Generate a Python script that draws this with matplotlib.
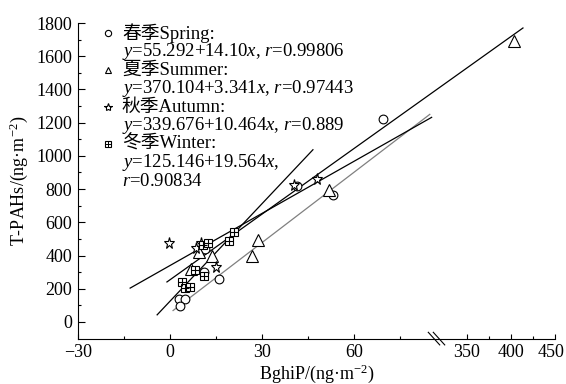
import numpy as np
import matplotlib
matplotlib.use("Agg")
import matplotlib.pyplot as plt
import matplotlib.transforms as mtransforms
from matplotlib.ticker import FixedLocator

plt.rcParams['font.family'] = ['Liberation Serif', 'Noto Sans CJK SC']
plt.rcParams['mathtext.fontset'] = 'custom'
plt.rcParams['mathtext.rm'] = 'Liberation Serif'
plt.rcParams['mathtext.it'] = 'Liberation Serif:italic'
plt.rcParams['axes.unicode_minus'] = True

# --- dane ---
spring_x = [3.0, 4.9, 3.4, 16.0, 11.0, 11.5, 41.5, 53.3, 69.5]
spring_y = [140, 140, 95, 258, 302, 440, 818, 765, 1222]
summer_x = [7.0, 9.5, 13.8, 26.8, 28.8, 51.8, 403.0]
summer_y = [318, 423, 397, 398, 492, 795, 1692]
autumn_x = [-0.3, 8.5, 10.0, 15.0, 40.3, 48.0]
autumn_y = [478, 447, 473, 332, 822, 860]
winter_x = [3.9, 5.0, 6.5, 8.3, 11.1, 10.8, 12.3, 19.3, 21.0]
winter_y = [241, 207, 211, 313, 275, 462, 475, 488, 540]

# proste regresji: (x_start, x_end), (y_start, y_end)
spring_fit = ([1.0, 84.7], [69, 1250])
summer_fit = ([-1.0, 413.6], [241, 1770])
autumn_fit = ([-13.0, 85.3], [204, 1232])
winter_fit = ([-4.2, 46.6], [43, 1037])

legend_titles = ["春季Spring:", "夏季Summer:", "秋季Autumn:", "冬季Winter:"]
legend_eqs = [
    ["$y$=55.292+14.10$x$, $r$=0.99806"],
    ["$y$=370.104+3.341$x$, $r$=0.97443"],
    ["$y$=339.676+10.464$x$, $r$=0.889"],
    ["$y$=125.146+19.564$x$,", "$r$=0.90834"],
]

x_major = [-30, 0, 30, 60, 350, 400, 450]
x_minor = [-15, 15, 45, 75, 375, 425]

# --- przerwana os X ---
B1, B2, K, EPS = 86.7, 314.8, 0.287, 1e-4
U2 = B1 + (B2 - B1) * EPS


def fwd(x):
    x = np.asarray(x, float)
    return np.where(x <= B1, x,
                    np.where(x >= B2, U2 + (x - B2) * K, B1 + (x - B1) * EPS))


def inv(u):
    u = np.asarray(u, float)
    return np.where(u <= B1, u,
                    np.where(u >= U2, B2 + (u - U2) / K, B1 + (u - B1) / EPS))


fig = plt.figure(figsize=(5.66, 3.84), dpi=100)
ax = fig.add_axes([78 / 566, (384 - 338.6) / 384, 477 / 566, 315.6 / 384])
ax.set_xscale('function', functions=(fwd, inv))
ax.set_xlim(-30, 450)
ax.set_ylim(-100, 1800)

lw = 0.9
ax.plot(*spring_fit, color='#808080', lw=lw)
ax.plot(*summer_fit, color='black', lw=lw)
ax.plot(*autumn_fit, color='black', lw=lw)
ax.plot(*winter_fit, color='black', lw=lw)

ms = 6.3
mk = dict(ls='none', mfc='white', mec='black', mew=0.8)
ax.plot(spring_x, spring_y, marker='o', ms=ms, **mk)
ax.plot(summer_x, summer_y, marker='^', ms=ms + 1.7, **mk)
ax.plot(autumn_x, autumn_y, marker='*', ms=ms + 2, **mk)
ax.plot(winter_x, winter_y, marker='s', ms=ms - 0.8, **mk)
ax.plot(winter_x, winter_y, marker='+', ms=ms - 0.8, ls='none', color='black', mew=0.8)

# legenda reczna
row0, dy = 0.968, 18.5 / 315.6
mx, tx = 0.063, 0.092
markers = ['o', '^', '*', 's']
row = 0
for i, title in enumerate(legend_titles):
    yy = row0 - row * dy
    m = markers[i]
    ax.plot([mx], [yy], marker=m, ms=4.5 if m != '*' else 6, transform=ax.transAxes,
            clip_on=False, **mk)
    if m == 's':
        ax.plot([mx], [yy], marker='+', ms=4.5, transform=ax.transAxes, clip_on=False,
                color='black', mew=0.7)
    ax.text(tx, yy, title, transform=ax.transAxes, va='center', ha='left', fontsize=13.5)
    row += 1
    for eq in legend_eqs[i]:
        yy = row0 - row * dy
        ax.text(tx, yy, eq, transform=ax.transAxes, va='center', ha='left', fontsize=13.5)
        row += 1

# osie
ax.spines['top'].set_visible(False)
ax.spines['right'].set_visible(False)
ax.xaxis.set_major_locator(FixedLocator(x_major))
ax.xaxis.set_minor_locator(FixedLocator(x_minor))
ax.set_xticklabels([str(v) if v >= 0 else "\u2212" + str(-v) for v in x_major])
ax.set_yticks(np.arange(0, 1801, 200))
ax.set_yticks(np.arange(100, 1800, 200), minor=True)
ax.tick_params(which='both', direction='in', labelsize=13, width=0.8)
ax.tick_params(axis='y', which='major', length=5, pad=4)
ax.tick_params(axis='y', which='minor', length=2.5)
ax.tick_params(axis='x', which='major', length=3.5, pad=4)
ax.tick_params(axis='x', which='minor', length=2)

# ostatnia etykieta lekko w lewo, zeby sie miescila
last = ax.get_xticklabels()[-1]
last.set_transform(last.get_transform() +
                   mtransforms.ScaledTranslation(-3 / 72, 0, fig.dpi_scale_trans))

ax.set_xlabel("BghiP/(ng·m$^{-2}$)", fontsize=13, labelpad=1)
ax.set_ylabel("T-PAHs/(ng·m$^{-2}$)", fontsize=13, labelpad=5)

# znak przerwania osi
for cx in [(434 - 78) / 477, (439 - 78) / 477]:
    ax.plot([cx - 0.012, cx + 0.012], [0.02, -0.02], color='black', lw=0.8,
            transform=ax.transAxes, clip_on=False)

plt.savefig("out.png", dpi=100)
